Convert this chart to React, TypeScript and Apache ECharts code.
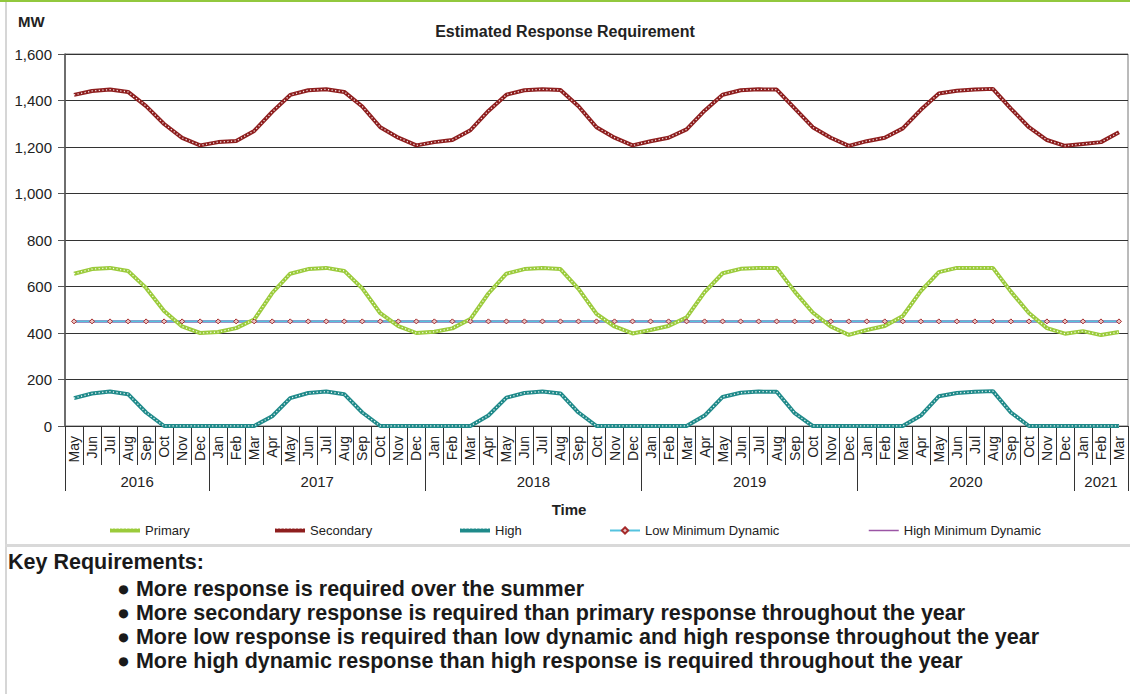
import React, { useEffect, useRef } from "react";
import * as echarts from "echarts";

const months = [
  "May", "Jun", "Jul", "Aug", "Sep", "Oct", "Nov", "Dec",
  "Jan", "Feb", "Mar", "Apr", "May", "Jun", "Jul", "Aug", "Sep", "Oct", "Nov", "Dec",
  "Jan", "Feb", "Mar", "Apr", "May", "Jun", "Jul", "Aug", "Sep", "Oct", "Nov", "Dec",
  "Jan", "Feb", "Mar", "Apr", "May", "Jun", "Jul", "Aug", "Sep", "Oct", "Nov", "Dec",
  "Jan", "Feb", "Mar", "Apr", "May", "Jun", "Jul", "Aug", "Sep", "Oct", "Nov", "Dec",
  "Jan", "Feb", "Mar",
];

const years = ["2016", "2017", "2018", "2019", "2020", "2021"];
const monthsPerYear = [8, 12, 12, 12, 12, 3];

const primary = [
  655, 675, 680, 667, 594, 495, 428, 400,
  404, 421, 458, 572, 655, 675, 680, 667, 592, 485, 430, 400,
  405, 420, 460, 570, 655, 675, 680, 675, 590, 482, 428, 398,
  413, 430, 467, 576, 657, 676, 680, 680, 578, 488, 428, 392,
  413, 430, 473, 580, 662, 680, 680, 680, 578, 486, 421, 397,
  408, 391, 404,
];

const secondary = [
  1424, 1441, 1447, 1437, 1376, 1299, 1239, 1207,
  1221, 1226, 1269, 1351, 1424, 1444, 1448, 1437, 1374, 1285, 1240, 1207,
  1221, 1230, 1272, 1355, 1425, 1444, 1448, 1445, 1375, 1285, 1240, 1207,
  1225, 1240, 1276, 1356, 1425, 1444, 1448, 1447, 1366, 1285, 1240, 1205,
  1225, 1240, 1280, 1360, 1430, 1442, 1447, 1450, 1365, 1285, 1230, 1205,
  1213, 1221, 1263,
];

const high = [
  120, 140, 148, 137, 58, 0, 0, 0,
  0, 0, 0, 42, 120, 142, 148, 137, 58, 0, 0, 0,
  0, 0, 0, 45, 122, 142, 148, 140, 58, 0, 0, 0,
  0, 0, 0, 45, 125, 143, 148, 147, 55, 0, 0, 0,
  0, 0, 0, 45, 128, 142, 147, 150, 58, 0, 0, 0,
  0, 0, 0,
];

const lowMinDynamic = [
  450, 450, 450, 450, 450, 450, 450, 450,
  450, 450, 450, 450, 450, 450, 450, 450, 450, 450, 450, 450,
  450, 450, 450, 450, 450, 450, 450, 450, 450, 450, 450, 450,
  450, 450, 450, 450, 450, 450, 450, 450, 450, 450, 450, 450,
  450, 450, 450, 450, 450, 450, 450, 450, 450, 450, 450, 450,
  450, 450, 450,
];

const highMinDynamic = [
  450, 450, 450, 450, 450, 450, 450, 450,
  450, 450, 450, 450, 450, 450, 450, 450, 450, 450, 450, 450,
  450, 450, 450, 450, 450, 450, 450, 450, 450, 450, 450, 450,
  450, 450, 450, 450, 450, 450, 450, 450, 450, 450, 450, 450,
  450, 450, 450, 450, 450, 450, 450, 450, 450, 450, 450, 450,
  450, 450, 450,
];

const yTicks = { min: 0, max: 1600, interval: 200 };

const keyTitle = "Key Requirements:";
const keyPoints = [
  "\u25CF More response is required over the summer",
  "\u25CF More secondary response is required than primary response throughout the year",
  "\u25CF More low response is required than low dynamic and high response throughout the year",
  "\u25CF More high dynamic response than high response is required throughout the year",
];

const FONT = 'Arial, "Liberation Sans", Helvetica, sans-serif';

const COLORS = {
  primary: "#9bcb3b",
  secondary: "#8e1e1e",
  high: "#1f8a8a",
  low: "#55c3df",
  highMD: "#9b55a5",
};

export default function App() {
  const ref = useRef<HTMLDivElement>(null);

  useEffect(() => {
    if (!ref.current) return;
    const chart = echarts.init(ref.current, undefined, { renderer: "svg" });

    // year axis at half-month resolution, derived from years / monthsPerYear
    const halfCount = months.length * 2;
    const yearAxisData: string[] = [];
    for (let i = 0; i <= halfCount; i++) yearAxisData.push("");
    const boundaryIdx: number[] = [0];
    const labelIdx: Record<number, string> = {};
    let acc = 0;
    years.forEach((y, k) => {
      const start = acc;
      acc += monthsPerYear[k];
      boundaryIdx.push(acc * 2);
      const mid = start + acc;
      labelIdx[mid] = y;
      yearAxisData[mid] = y;
    });

    const dotLine = (name: string, data: number[]) => ({
      name,
      type: "line",
      data,
      symbol: "none",
      silent: true,
      lineStyle: { color: "rgba(255,255,255,0.9)", width: 1.3, type: [1.2, 2.4] },
      z: 4,
    });

    const legendY = 528;
    const legendH = 8;
    const legendPos: any[] = [
      { name: "Primary", left: 108, hideSymbol: true, width: 4 },
      { name: "Secondary", left: 273, hideSymbol: true, width: 4 },
      { name: "High", left: 458, hideSymbol: true, width: 4 },
      { name: "Low Minimum Dynamic", left: 609, hideSymbol: false, width: 2 },
      { name: "High Minimum Dynamic", left: 868, hideSymbol: true, width: 1.5 },
    ];

    const option: any = {
      animation: false,
      backgroundColor: "#ffffff",
      textStyle: { fontFamily: FONT },
      title: {
        text: "Estimated Response Requirement",
        left: "center",
        top: 18,
        textStyle: { fontFamily: FONT, fontSize: 16, fontWeight: "bold", color: "#222" },
      },
      legend: legendPos.map((l) => {
        const lg: any = {
          data: [l.name],
          left: l.left,
          top: legendY - legendH / 2,
          padding: 0,
          itemWidth: 30,
          itemHeight: legendH,
          textStyle: { fontFamily: FONT, fontSize: 13, color: "#222" },
          lineStyle: { width: l.width },
          selectedMode: false,
        };
        if (l.hideSymbol) lg.itemStyle = { opacity: 0 };
        return lg;
      }),
      grid: {
        left: 65,
        right: 2,
        top: 54,
        bottom: 268,
        show: true,
        borderColor: "#777",
        borderWidth: 1,
      },
      xAxis: [
        {
          type: "category",
          data: months,
          boundaryGap: true,
          position: "bottom",
          axisLine: { show: true, lineStyle: { color: "#333", width: 1.2 } },
          axisTick: { show: true, interval: 0, length: 39, lineStyle: { color: "#333" } },
          axisLabel: {
            interval: 0,
            rotate: 90,
            margin: 10,
            fontSize: 14,
            color: "#222",
            fontFamily: FONT,
          },
          splitLine: { show: false },
        },
        {
          type: "category",
          data: yearAxisData,
          boundaryGap: false,
          position: "bottom",
          axisLine: { show: false },
          axisTick: {
            show: true,
            length: 65,
            interval: (idx: number) => boundaryIdx.indexOf(idx) >= 0,
            lineStyle: { color: "#333" },
          },
          axisLabel: {
            interval: (idx: number) => labelIdx[idx] !== undefined,
            margin: 48,
            fontSize: 15,
            color: "#222",
            fontFamily: FONT,
          },
          splitLine: { show: false },
        },
      ],
      yAxis: {
        type: "value",
        min: yTicks.min,
        max: yTicks.max,
        interval: yTicks.interval,
        axisLine: { show: true, lineStyle: { color: "#555", width: 1.5 } },
        axisTick: { show: true, length: 7, lineStyle: { color: "#555" } },
        axisLabel: {
          margin: 13,
          fontSize: 15,
          color: "#222",
          fontFamily: FONT,
          formatter: (v: number) => v.toLocaleString("en-US"),
        },
        splitLine: { show: true, lineStyle: { color: "#333", width: 1 } },
      },
      series: [
        {
          name: "High Minimum Dynamic",
          type: "line",
          data: highMinDynamic,
          symbol: "none",
          lineStyle: { color: COLORS.highMD, width: 2.5 },
          itemStyle: { color: COLORS.highMD },
          z: 2,
        },
        {
          name: "Low Minimum Dynamic",
          type: "line",
          data: lowMinDynamic,
          symbol: "diamond",
          symbolSize: 5,
          showSymbol: true,
          lineStyle: { color: COLORS.low, width: 1.8 },
          itemStyle: { color: "#e9c3c3", borderColor: "#a52a2a", borderWidth: 1 },
          z: 3,
        },
        {
          name: "Secondary",
          type: "line",
          data: secondary,
          symbol: "none",
          lineStyle: { color: COLORS.secondary, width: 4 },
          itemStyle: { color: COLORS.secondary },
          z: 3,
        },
        dotLine("Secondary dots", secondary),
        {
          name: "Primary",
          type: "line",
          data: primary,
          symbol: "none",
          lineStyle: { color: COLORS.primary, width: 4 },
          itemStyle: { color: COLORS.primary },
          z: 3,
        },
        dotLine("Primary dots", primary),
        {
          name: "High",
          type: "line",
          data: high,
          symbol: "none",
          lineStyle: { color: COLORS.high, width: 4 },
          itemStyle: { color: COLORS.high },
          z: 3,
        },
        dotLine("High dots", high),
      ],
      graphic: [
        { type: "rect", shape: { x: 0, y: 0, width: 1130, height: 2 }, style: { fill: "#92c83e" }, silent: true },
        { type: "rect", shape: { x: 5, y: 2, width: 2, height: 692 }, style: { fill: "#d6d6d6" }, silent: true },
        { type: "rect", shape: { x: 5, y: 544, width: 1125, height: 3 }, style: { fill: "#d9d9d9" }, silent: true },
        {
          type: "text",
          x: 18,
          y: 21,
          style: { text: "MW", font: `bold 15px ${FONT}`, fill: "#222", textAlign: "left", textVerticalAlign: "middle" },
        },
        {
          type: "text",
          x: 569,
          y: 509,
          style: { text: "Time", font: `bold 15px ${FONT}`, fill: "#222", textAlign: "center", textVerticalAlign: "middle" },
        },
        ...[108, 273, 458].map((lx) => ({
          type: "line",
          shape: { x1: lx, y1: legendY, x2: lx + 30, y2: legendY },
          style: { stroke: "rgba(255,255,255,0.9)", lineWidth: 1.3, lineDash: [1.2, 2.4] },
          z: 100,
          silent: true,
        })),
        {
          type: "text",
          x: 8,
          y: 562,
          style: { text: keyTitle, font: `bold 21.5px ${FONT}`, fill: "#1a1a1a", textAlign: "left", textVerticalAlign: "middle" },
        },
        ...keyPoints.map((t, i) => ({
          type: "text",
          x: 117,
          y: 589 + i * 24,
          style: { text: t, font: `bold 21.5px ${FONT}`, fill: "#1a1a1a", textAlign: "left", textVerticalAlign: "middle" },
        })),
      ],
    };

    chart.setOption(option);
    return () => chart.dispose();
  }, []);

  return (
    <div style={{ position: "fixed", left: 0, top: 0, width: 1130, height: 694, background: "#fff" }}>
      <div ref={ref} style={{ width: 1130, height: 694 }} />
    </div>
  );
}
